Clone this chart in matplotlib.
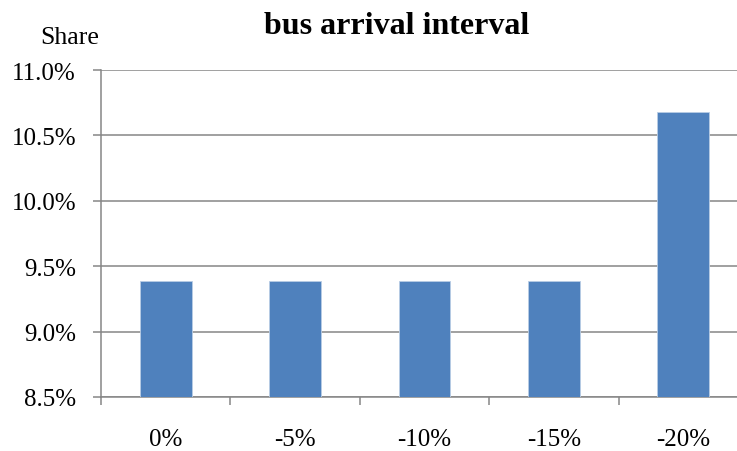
import matplotlib.pyplot as plt
from matplotlib.ticker import FuncFormatter

# data
categories = ['0%', '-5%', '-10%', '-15%', '-20%']
share = [9.39, 9.39, 9.39, 9.39, 10.68]
y_ticks = [8.5, 9.0, 9.5, 10.0, 10.5, 11.0]

plt.rcParams['font.family'] = ['Liberation Serif', 'DejaVu Serif']

W, H = 737, 452
fig = plt.figure(figsize=(W / 100, H / 100), dpi=100)
ax = fig.add_axes([101 / W, 1 - 398 / H, 647 / W, 327 / H])

x = range(len(categories))
ax.bar(x, share, width=0.4, color='#4f81bd', edgecolor='#b9cde5', linewidth=0.6, zorder=3)

ax.set_xlim(-0.5, len(categories) - 0.5)
ax.set_ylim(8.5, 11.0)
ax.set_yticks(y_ticks)
ax.yaxis.set_major_formatter(FuncFormatter(lambda v, p: f'{v:.1f}%'))
ax.set_xticks(x)
ax.set_xticklabels(categories)
ax.set_xticks([i - 0.5 for i in range(len(categories) + 1)], minor=True)

grid_c = '#868686'
ax.grid(axis='y', color=grid_c, linewidth=1.1, zorder=0)
for s in ['top', 'right']:
    ax.spines[s].set_visible(False)
for s in ['left', 'bottom']:
    ax.spines[s].set_color(grid_c)
    ax.spines[s].set_linewidth(1.1)

ax.tick_params(axis='y', length=6, width=1.1, color=grid_c, pad=12, labelsize=18)
ax.tick_params(axis='x', which='major', length=0, pad=22, labelsize=18)
ax.tick_params(axis='x', which='minor', length=6, width=1.1, color=grid_c)

fig.text(397 / W, 1 - 27 / H, 'bus arrival interval', ha='center', va='center',
         fontsize=23, fontweight='bold')
fig.text(70 / W, 1 - 38 / H, 'Share', ha='center', va='center', fontsize=18.5)

fig.savefig('out.png', dpi=100)
